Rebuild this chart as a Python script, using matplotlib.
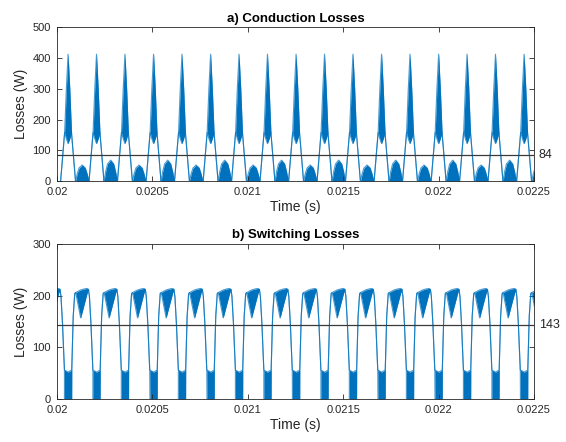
import numpy as np
import matplotlib
matplotlib.use("Agg")
import matplotlib.pyplot as plt
import matplotlib.transforms as mtransforms

plt.rcParams['font.family'] = ['Liberation Sans', 'DejaVu Sans']

# peak / dip centres (ms)
centres_ms = [19.909, 20.058, 20.207, 20.356, 20.506, 20.655, 20.805, 20.954, 21.103,
              21.253, 21.402, 21.551, 21.701, 21.850, 22.000, 22.149, 22.298, 22.448]

# a) conduction losses: one big peak (offset in us from centre, lower / upper envelope in W)
peak_off_us = [-39, -29, -18, -9, 0, 9, 18, 29, 39]
peak_upper = [0, 75, 158, 300, 413, 300, 158, 75, 0]
peak_lower = [0, 75, 158, 138, 122, 138, 158, 75, 0]
# small bump between peaks, alternating heights
bump_off_us = [40, 48, 58, 74, 90, 100, 109]
bump_shape = [0, 0.45, 0.82, 1.0, 0.82, 0.45, 0]
bump_heights = [68, 52, 68, 52, 68, 52, 68, 52, 68, 52, 68, 52, 68, 52, 68, 52, 68, 52]
cond_mean = 84

# b) switching losses: one cycle starting at the dip
sw_off_us = [-19, 0, 19, 19.5, 27, 35, 40, 55, 66, 85, 100, 107, 112, 120, 130]
sw_upper = [56, 52, 56, 58, 160, 204, 206, 209, 211, 213, 214, 212, 198, 145, 56]
sw_lower = [0, 0, 0, 58, 160, 204, 206, 178, 157, 184, 205, 212, 198, 145, 56]
sw_mean = 143

blue = '#0072BD'

# build the envelopes
ta, lo_a, up_a = [], [], []
for i, c in enumerate(centres_ms):
    if i > 0:
        for o, l, u in zip(peak_off_us, peak_lower, peak_upper):
            ta.append(c + o / 1000); lo_a.append(l); up_a.append(u)
        for o, f in zip(bump_off_us, bump_shape):
            ta.append(c + o / 1000); lo_a.append(0); up_a.append(f * bump_heights[i])
tb, lo_b, up_b = [], [], []
for c in centres_ms:
    for o, l, u in zip(sw_off_us, sw_lower, sw_upper):
        tb.append(c + o / 1000); lo_b.append(l); up_b.append(u)
ta = np.array(ta) / 1000
tb = np.array(tb) / 1000

fig = plt.figure(figsize=(5.66, 4.42), dpi=100)
ax1 = fig.add_axes([0.1007, 0.5905, 0.8428, 0.3473])
ax2 = fig.add_axes([0.1007, 0.0973, 0.8428, 0.3507])

panels = [
    (ax1, ta, lo_a, up_a, cond_mean, 'a) Conduction Losses', [0, 500], np.arange(0, 501, 100)),
    (ax2, tb, lo_b, up_b, sw_mean, 'b) Switching Losses', [0, 300], np.arange(0, 301, 100)),
]
for ax, t, lo, up, m, title, ylim, yt in panels:
    ax.fill_between(t, lo, up, color=blue, lw=0)
    ax.plot(t, up, color=blue, lw=0.8, alpha=0.7)
    ax.plot(t, lo, color=blue, lw=0.8, alpha=0.7)
    ax.axhline(m, color='#3a3a3a', lw=0.9)
    trans = mtransforms.blended_transform_factory(ax.transAxes, ax.transData)
    ax.text(1.01, m, str(m), transform=trans, va='center', ha='left',
            fontsize=9, color='#262626')
    ax.set_xlim(0.02, 0.0225)
    ax.set_ylim(*ylim)
    ax.set_yticks(yt)
    ax.set_xticks([0.02, 0.0205, 0.021, 0.0215, 0.022, 0.0225])
    ax.set_xticklabels(['0.02', '0.0205', '0.021', '0.0215', '0.022', '0.0225'])
    ax.tick_params(direction='in', top=True, right=True, length=3.5, width=0.6,
                   labelsize=8, colors='#262626', pad=4.5)
    for s in ax.spines.values():
        s.set_color('#262626')
        s.set_linewidth(0.6)
    ax.set_title(title, fontsize=9.5, fontweight='bold', pad=4, color='#000000')
    ax.set_ylabel('Losses (W)', fontsize=10, labelpad=3, color='#262626')
    ax.set_xlabel('Time (s)', fontsize=10, labelpad=2, color='#262626')

fig.savefig('out.png', dpi=100)
